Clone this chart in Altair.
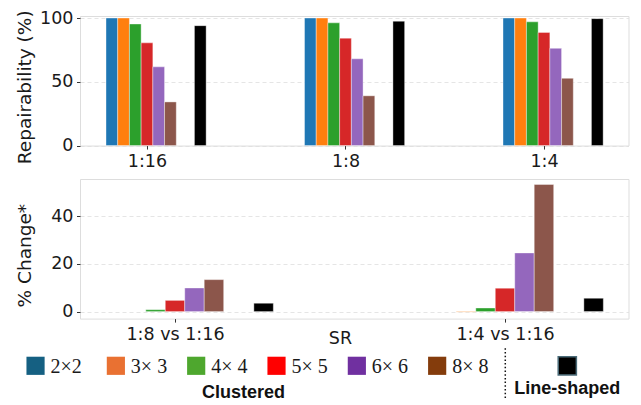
import json
import altair as alt
import pandas as pd

# ---------------- data ----------------
groups_top = ["1:16", "1:8", "1:4"]
groups_bot = ["1:8 vs 1:16", "1:4 vs 1:16"]
series = ["2x2", "3x3", "4x4", "5x5", "6x6", "8x8", "Line-shaped"]
bar_colors = ["#1f77b4", "#ff7f0e", "#2ca02c", "#d62728", "#9467bd", "#8c564b", "#000000"]

# Repairability (%) per SR group
rep_2x2 = [100.0, 100.0, 100.0]
rep_3x3 = [100.0, 100.0, 100.0]
rep_4x4 = [95.3, 96.2, 97.0]
rep_5x5 = [80.5, 84.2, 88.7]
rep_6x6 = [61.7, 68.0, 76.2]
rep_8x8 = [34.2, 39.0, 52.7]
rep_line = [94.0, 97.5, 99.5]

# % Change* per comparison
chg_2x2 = [0.0, 0.0]
chg_3x3 = [0.0, -0.2]
chg_4x4 = [0.8, 1.5]
chg_5x5 = [4.7, 9.8]
chg_6x6 = [9.9, 24.6]
chg_8x8 = [13.4, 53.3]
chg_line = [3.5, 5.6]

legend_labels = ["2\u00d72", "3\u00d7 3", "4\u00d7 4", "5\u00d7 5", "6\u00d7 6", "8\u00d7 8"]
legend_colors = ["#156082", "#E97132", "#4EA72E", "#FF0000", "#7030A0", "#843C0C"]


def long_table(cols):
    rows = []
    for k, vals in enumerate(cols):
        for g, v in enumerate(vals):
            rows.append({"g": g, "k": k, "series": series[k], "value": v})
    return pd.DataFrame(rows)


top_df = long_table([rep_2x2, rep_3x3, rep_4x4, rep_5x5, rep_6x6, rep_8x8, rep_line])
bot_df = long_table([chg_2x2, chg_3x3, chg_4x4, chg_5x5, chg_6x6, chg_8x8, chg_line])
leg_df = pd.DataFrame({"label": legend_labels, "i": list(range(len(legend_labels)))})

W = 0.059  # bar width in group units
FONT = "DejaVu Sans"
TICK_FS = 17.5
TITLE_FS = 18.5
PLOT_W = 548.5


def bars(df, xdom, ydom, yvals, ytitle, title_y, labels, xtitle=None):
    n = len(labels)
    xaxis_kwargs = dict(
        values=list(range(n)),
        labelExpr=json.dumps(labels) + "[datum.value]",
        grid=False, domain=False, tickSize=3.5, tickColor="#333333",
        labelFont=FONT, labelFontSize=TICK_FS, labelColor="#1a1a1a", labelPadding=3.5,
    )
    if xtitle is not None:
        xaxis_kwargs.update(
            title=xtitle, titleFont=FONT, titleFontSize=TICK_FS, titleFontWeight="normal",
            titleColor="#1a1a1a", titleX=260, titleY=24.7, titleBaseline="alphabetic",
            titleAlign="center",
        )
    else:
        xaxis_kwargs.update(title=None)
    return (
        alt.Chart(df)
        .transform_calculate(slot="datum.k < 6 ? datum.k - 3 : 4.55")
        .transform_calculate(xa=f"datum.g + datum.slot * {W} - {W / 2}",
                             xb=f"datum.g + datum.slot * {W} + {W / 2}")
        .mark_bar(stroke="#ffffff", strokeWidth=0.7, strokeOpacity=0.55)
        .encode(
            x=alt.X("xa:Q", scale=alt.Scale(domain=xdom, nice=False, zero=False),
                    axis=alt.Axis(**xaxis_kwargs)),
            x2="xb:Q",
            y=alt.Y("value:Q", scale=alt.Scale(domain=ydom, nice=False, zero=False),
                    axis=alt.Axis(values=yvals, title=ytitle, grid=True, gridColor="#dedede",
                                  gridDash=[4, 3], gridWidth=0.8, domain=False, tickSize=3.5,
                                  tickColor="#333333", labelFont=FONT, labelFontSize=TICK_FS,
                                  labelColor="#1a1a1a", labelPadding=3.5, titleFont=FONT,
                                  titleFontSize=TITLE_FS, titleFontWeight="normal",
                                  titleColor="#1a1a1a", titleX=-50, titleY=title_y,
                                  titleBaseline="alphabetic", titleAlign="center")),
            y2=alt.datum(0),
            color=alt.Color("series:N", scale=alt.Scale(domain=series, range=bar_colors),
                            legend=None),
        )
    )


top = bars(top_df, [-0.3375, 2.4257], [0, 101.57], [0, 50, 100], "Repairability (%)", 70.8,
           groups_top).properties(width=PLOT_W, height=129.55)

bot_bars = bars(bot_df, [-0.2879, 1.3742], [-2.94, 55.6], [0, 20, 40], "% Change*", 76.2,
                groups_bot, xtitle="SR")

# ---------------- hand-made legend (own x scale in item slots) ----------------
leg_scale = alt.Scale(domain=[0.5535, 7.382], nice=False, zero=False)
LX = alt.X("i:Q", scale=leg_scale, axis=None)

leg_sq = alt.Chart(leg_df).mark_square(size=330, opacity=1).encode(
    x=LX, y=alt.value(186.8),
    fill=alt.Fill("label:N", scale=alt.Scale(domain=legend_labels, range=legend_colors),
                  legend=None),
)
leg_txt = alt.Chart(leg_df).mark_text(
    align="left", baseline="alphabetic", dx=15, font="Liberation Serif", fontSize=20,
    color="#1a1a1a",
).encode(x=LX, y=alt.value(194), text="label:N")

one = pd.DataFrame({"name": ["Clustered"]})
leg_title1 = alt.Chart(one).mark_text(
    font="Liberation Sans", fontWeight="bold", fontSize=18, color="#111111",
    baseline="alphabetic", align="center",
).encode(x=alt.X(datum=2.59, scale=leg_scale, axis=None),
         y=alt.value(219), text=alt.value("Clustered"))

leg_rule = alt.Chart(one).mark_rule(color="#111111", strokeDash=[1.5, 2.2], strokeWidth=1.5).encode(
    x=alt.X(datum=5.848, scale=leg_scale, axis=None), y=alt.value(169.3), y2=alt.value(221))

leg_black = alt.Chart(one).mark_square(size=330, fill="#000000", stroke="#4a6b78",
                                       strokeWidth=1.5, opacity=1).encode(
    x=alt.X(datum=6.62, scale=leg_scale, axis=None), y=alt.value(186.8))

leg_title2 = alt.Chart(one).mark_text(
    font="Liberation Sans", fontWeight="bold", fontSize=18, color="#111111",
    baseline="alphabetic", align="center",
).encode(x=alt.X(datum=6.62, scale=leg_scale, axis=None), y=alt.value(215),
         text=alt.value("Line-shaped"))

legend = alt.layer(leg_sq, leg_txt, leg_title1, leg_rule, leg_black, leg_title2)

bottom = alt.layer(bot_bars, legend).resolve_scale(x="independent").properties(
    width=PLOT_W, height=139.6)

chart = (
    alt.vconcat(top, bottom, spacing=7)
    .properties(padding={"left": 6, "top": 0, "right": 0, "bottom": 0})
    .configure_view(stroke="#3c3c3c", strokeWidth=1)
    .configure(background="white")
)

chart.save("out.html", embed_options={"renderer": "svg", "actions": False})
